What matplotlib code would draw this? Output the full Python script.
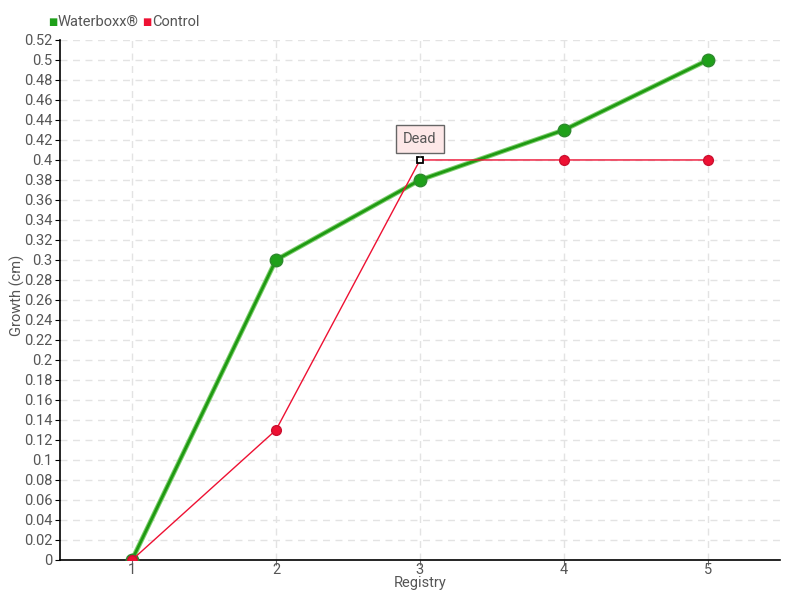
import matplotlib
matplotlib.use("Agg")
import matplotlib.pyplot as plt
import numpy as np

plt.rcParams["font.family"] = ["Roboto", "DejaVu Sans"]

# data
registry = [1, 2, 3, 4, 5]
waterboxx = [0, 0.3, 0.38, 0.43, 0.5]
control = [0, 0.13, 0.4, 0.4, 0.4]
dead_idx = 2
y_ticks = np.round(np.arange(0, 0.5201, 0.02), 2)

fig = plt.figure(figsize=(8, 6), dpi=100)
ax = fig.add_axes([0.075, 0.0667, 0.9, 0.8667])

# grid
ax.set_axisbelow(True)
ax.grid(True, color="#e3e3e3", linestyle=(0, (5, 4)), linewidth=1)

# Waterboxx line
ax.plot(registry, waterboxx, color="#7fcf6f", linewidth=3.5, zorder=3, solid_capstyle="round")
ax.plot(registry, waterboxx, color="#1f9a12", linewidth=2, zorder=3,
        marker="o", markersize=9, markerfacecolor="#1fa01a", markeredgecolor="#2d8a2d",
        markeredgewidth=1)

# Control line
ax.plot(registry, control, color="#ee1133", linewidth=1, zorder=4)
mask = [i for i in range(len(registry)) if i != dead_idx]
ax.plot([registry[i] for i in mask], [control[i] for i in mask], linestyle="none",
        marker="o", markersize=7, markerfacecolor="#ee1133", markeredgecolor="#cc1030", zorder=5)
ax.plot(registry[dead_idx], control[dead_idx], linestyle="none", marker="s", markersize=5,
        markerfacecolor="white", markeredgecolor="black", markeredgewidth=1.3, zorder=6)

ax.annotate("Dead", xy=(registry[dead_idx], control[dead_idx]), xytext=(0, 15),
            textcoords="offset points", ha="center", va="center", fontsize=10.5, color="#555555",
            bbox=dict(boxstyle="square,pad=0.5", facecolor="#fde8e8", edgecolor="#666666", linewidth=1),
            arrowprops=dict(arrowstyle="-", color="#666666", linewidth=1), zorder=7)

ax.set_xlim(0.5, 5.5)
ax.set_ylim(0, 0.52)
ax.set_xticks(registry)
ax.set_yticks(y_ticks)
ax.set_yticklabels([("%g" % v) for v in y_ticks])

for s in ["top", "right"]:
    ax.spines[s].set_visible(False)
for s in ["left", "bottom"]:
    ax.spines[s].set_color("black")
    ax.spines[s].set_linewidth(1.2)

ax.tick_params(axis="y", length=3.5, color="black", labelsize=10.5, labelcolor="#555555", pad=2)
ax.tick_params(axis="x", length=3.5, color="#666666", labelsize=10.5, labelcolor="#555555", pad=-1.5)

fig.text(420 / 800, 1 - 583 / 600, "Registry", fontsize=10.5, color="#555555",
         ha="center", va="center")
fig.text(17 / 800, 1 - 295 / 600, "Growth (cm)", fontsize=10.5, color="#555555",
         ha="center", va="center", rotation=90)

# legend
ly = 1 - 22 / 600
fig.text(48 / 800, ly, "\u25a0", color="#1fa01a", fontsize=7, va="center",
         family="DejaVu Sans")
fig.text(58 / 800, ly, "Waterboxx\u00ae", color="#555555", fontsize=10.5, va="center")
fig.text(142 / 800, ly, "\u25a0", color="#ee1133", fontsize=7, va="center",
         family="DejaVu Sans")
fig.text(152 / 800, ly, "Control", color="#555555", fontsize=10.5, va="center")

fig.savefig("out.png", dpi=100)
